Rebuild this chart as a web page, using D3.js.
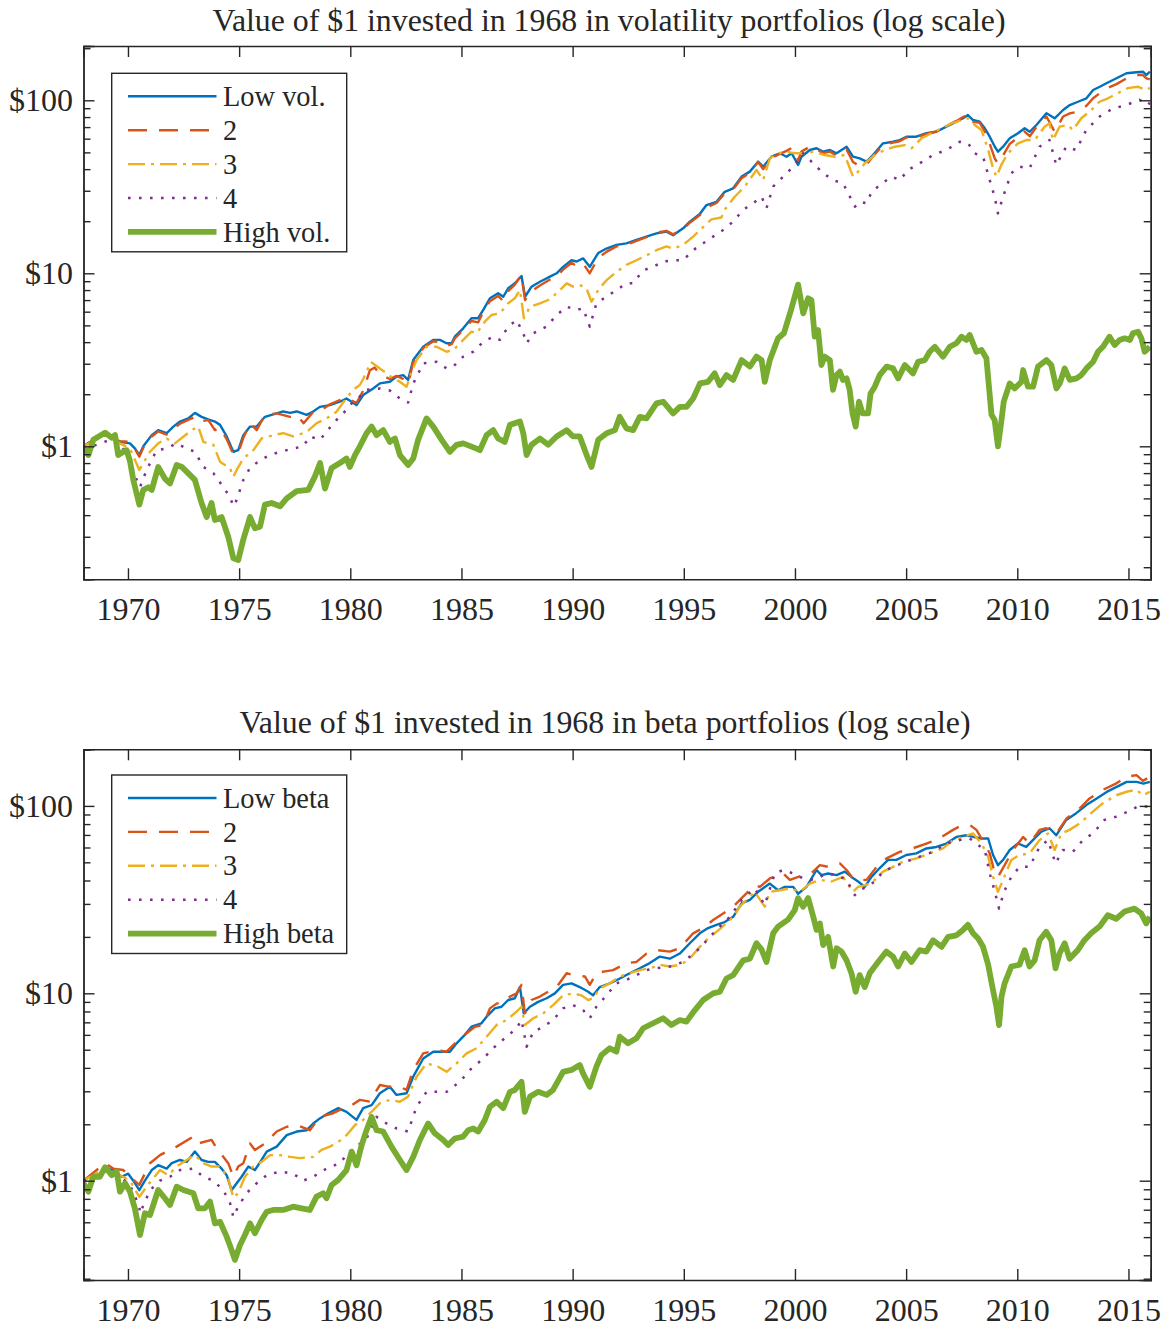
<!DOCTYPE html>
<html>
<head>
<meta charset="utf-8">
<script src="https://cdn.jsdelivr.net/npm/d3@7"></script>
<style>
  body { margin: 0; background: #fff; }
  svg { display: block; }
  text { font-family: "Liberation Serif", "Times New Roman", Times, serif; fill: #262626; }
</style>
</head>
<body>
<svg id="chart" width="1167" height="1329"></svg>
<script>
// ---- Axis ticks and labels ----
const xTickYears = [1970, 1975, 1980, 1985, 1990, 1995, 2000, 2005, 2010, 2015];
const yTickValues = [1, 10, 100];
const yTickLabels = ["$1", "$10", "$100"];

const volTitle = "Value of $1 invested in 1968 in volatility portfolios (log scale)";
const betaTitle = "Value of $1 invested in 1968 in beta portfolios (log scale)";
const volLabels = ["Low vol.", "2", "3", "4", "High vol."];
const betaLabels = ["Low beta", "2", "3", "4", "High beta"];

// ---- Volatility portfolios: [year, value of $1] ----
const volLow = [[1968.00,1.00],[1968.44,1.09],[1968.97,1.19],[1969.34,1.11],[1969.64,1.06],[1970.09,1.04],[1970.32,0.97],[1970.51,0.89],[1970.69,1.00],[1971.07,1.16],[1971.36,1.24],[1971.74,1.19],[1972.04,1.30],[1972.34,1.39],[1972.71,1.45],[1973.01,1.56],[1973.31,1.48],[1973.61,1.43],[1973.91,1.39],[1974.14,1.33],[1974.44,1.14],[1974.74,0.93],[1974.96,0.95],[1975.19,1.16],[1975.49,1.30],[1975.79,1.30],[1976.16,1.48],[1976.69,1.55],[1976.98,1.59],[1977.29,1.56],[1977.59,1.59],[1978.04,1.52],[1978.33,1.59],[1978.63,1.69],[1979.08,1.73],[1979.53,1.81],[1979.83,1.89],[1980.28,1.73],[1980.58,1.98],[1981.03,2.16],[1981.33,2.31],[1981.78,2.36],[1982.08,2.53],[1982.38,2.58],[1982.60,2.42],[1982.83,3.15],[1983.28,3.76],[1983.73,4.12],[1984.03,4.12],[1984.33,3.94],[1984.56,3.94],[1984.70,4.30],[1985.08,4.81],[1985.45,5.50],[1985.75,5.50],[1985.98,6.14],[1986.28,7.17],[1986.65,7.66],[1986.88,7.32],[1987.10,8.19],[1987.40,8.75],[1987.70,9.65],[1987.86,7.32],[1988.15,8.37],[1988.53,8.94],[1988.98,9.56],[1989.28,10.0],[1989.57,10.9],[1989.95,11.9],[1990.18,11.7],[1990.47,12.2],[1990.77,10.9],[1991.15,13.1],[1991.52,13.9],[1991.97,14.6],[1992.42,14.9],[1992.87,15.6],[1993.32,16.3],[1993.77,17.0],[1994.22,17.4],[1994.52,16.6],[1994.97,18.2],[1995.27,19.9],[1995.72,22.0],[1996.02,24.8],[1996.47,25.9],[1996.84,29.6],[1997.22,31.0],[1997.60,36.2],[1997.97,38.7],[1998.34,44.2],[1998.57,41.3],[1998.94,47.2],[1999.32,49.4],[1999.62,47.2],[1999.85,49.4],[2000.14,42.3],[2000.29,47.2],[2000.67,51.6],[2000.97,52.8],[2001.26,50.5],[2001.57,51.6],[2001.87,49.4],[2002.32,53.9],[2002.61,47.2],[2002.91,46.2],[2003.22,44.2],[2003.51,48.3],[2003.96,56.4],[2004.41,57.6],[2004.71,58.9],[2005.01,61.6],[2005.46,61.6],[2005.91,64.5],[2006.36,65.8],[2006.81,70.4],[2007.26,75.2],[2007.56,78.7],[2007.78,82.2],[2008.01,76.9],[2008.31,75.2],[2008.54,68.9],[2008.76,61.6],[2008.99,53.9],[2009.13,50.5],[2009.36,53.9],[2009.66,60.3],[2010.03,64.5],[2010.33,68.9],[2010.56,65.8],[2010.86,72.0],[2011.31,84.1],[2011.68,78.7],[2012.06,87.9],[2012.36,93.9],[2012.73,98.1],[2013.11,102.7],[2013.41,114.7],[2013.71,119.8],[2014.01,125.4],[2014.46,134.1],[2014.91,143.3],[2015.36,145.2],[2015.65,146.3],[2015.81,140.0],[2015.96,146.3]];

const volQ2 = [[1968.00,1.00],[1968.44,1.08],[1968.97,1.19],[1969.34,1.10],[1969.64,1.07],[1970.09,1.06],[1970.32,0.96],[1970.51,0.87],[1970.69,0.98],[1971.07,1.14],[1971.36,1.22],[1971.74,1.17],[1972.04,1.27],[1972.34,1.35],[1972.71,1.42],[1973.01,1.48],[1973.24,1.39],[1973.61,1.42],[1973.91,1.24],[1974.14,1.28],[1974.44,1.10],[1974.74,0.90],[1974.96,0.92],[1975.19,1.12],[1975.49,1.36],[1975.79,1.24],[1976.16,1.52],[1976.69,1.55],[1977.29,1.48],[1977.59,1.52],[1977.90,1.36],[1978.33,1.58],[1978.63,1.60],[1979.08,1.75],[1979.53,1.85],[1979.83,1.90],[1980.28,1.78],[1980.58,2.10],[1980.88,2.75],[1981.10,2.85],[1981.33,2.60],[1981.78,2.45],[1982.08,2.55],[1982.38,2.45],[1982.60,2.30],[1982.83,3.05],[1983.28,3.70],[1983.73,4.05],[1984.03,4.00],[1984.33,3.80],[1984.56,3.90],[1984.70,4.20],[1985.08,4.70],[1985.45,5.30],[1985.75,5.20],[1985.98,6.00],[1986.28,6.90],[1986.65,7.40],[1986.88,6.90],[1987.10,7.90],[1987.40,8.60],[1987.70,9.80],[1987.86,7.00],[1988.15,7.90],[1988.53,8.50],[1988.98,9.20],[1989.28,9.60],[1989.57,10.5],[1989.95,11.5],[1990.18,11.0],[1990.47,11.4],[1990.77,10.0],[1991.15,12.3],[1991.52,13.3],[1991.97,14.3],[1992.42,14.6],[1992.87,15.4],[1993.32,16.2],[1993.77,17.2],[1994.22,17.6],[1994.52,16.8],[1994.97,18.0],[1995.27,19.6],[1995.72,21.7],[1996.02,24.0],[1996.47,25.5],[1996.84,29.0],[1997.22,30.5],[1997.60,35.5],[1997.97,38.0],[1998.34,44.0],[1998.57,40.0],[1998.94,46.5],[1999.32,49.0],[1999.62,51.0],[1999.85,53.0],[2000.14,45.0],[2000.29,50.5],[2000.67,54.0],[2000.97,52.0],[2001.26,49.5],[2001.57,50.5],[2001.87,48.0],[2002.32,52.0],[2002.61,44.0],[2002.82,42.3],[2003.04,43.0],[2003.22,42.5],[2003.51,47.5],[2003.96,55.0],[2004.41,57.0],[2004.71,58.0],[2005.01,61.0],[2005.46,61.0],[2005.91,64.0],[2006.36,66.0],[2006.81,71.0],[2007.26,76.0],[2007.56,80.0],[2007.78,83.0],[2008.01,75.0],[2008.31,74.0],[2008.54,66.0],[2008.76,56.0],[2008.99,46.0],[2009.13,43.2],[2009.36,48.0],[2009.66,56.0],[2010.03,61.0],[2010.33,66.0],[2010.56,62.0],[2010.86,70.0],[2011.31,80.6],[2011.68,65.8],[2012.06,80.6],[2012.36,84.0],[2012.73,86.1],[2013.11,93.0],[2013.41,102.7],[2013.71,110.0],[2014.01,117.0],[2014.46,124.0],[2014.91,134.0],[2015.36,140.0],[2015.65,140.0],[2015.81,134.0],[2015.96,132.0]];

const volQ3 = [[1968.00,1.00],[1968.44,1.07],[1968.97,1.17],[1969.64,1.04],[1970.09,0.97],[1970.51,0.73],[1970.99,0.93],[1971.36,1.04],[1971.74,1.11],[1972.11,1.04],[1972.87,1.24],[1973.16,1.30],[1973.39,1.06],[1973.84,1.02],[1974.14,0.815],[1974.59,0.746],[1974.74,0.667],[1974.89,0.73],[1975.19,0.85],[1975.64,0.95],[1976.01,1.11],[1976.53,1.16],[1976.98,1.19],[1977.43,1.14],[1978.04,1.21],[1978.49,1.36],[1978.94,1.45],[1979.38,1.585],[1979.76,1.85],[1980.13,2.12],[1980.43,2.26],[1980.58,2.45],[1980.93,3.07],[1981.33,2.82],[1981.63,2.64],[1981.93,2.47],[1982.23,2.36],[1982.53,2.21],[1982.76,2.70],[1982.98,3.15],[1983.43,3.76],[1983.88,3.76],[1984.33,3.52],[1984.63,3.60],[1985.08,4.12],[1985.45,4.60],[1985.68,4.50],[1986.05,5.25],[1986.35,5.74],[1986.73,5.87],[1987.10,6.71],[1987.40,7.17],[1987.63,8.00],[1987.81,5.50],[1988.08,6.41],[1988.53,6.71],[1988.90,7.01],[1989.28,7.66],[1989.73,8.75],[1990.02,8.37],[1990.32,8.56],[1990.62,8.19],[1990.85,6.85],[1991.15,8.00],[1991.53,9.14],[1991.97,10.2],[1992.42,11.2],[1992.87,11.9],[1993.32,12.7],[1993.77,13.6],[1994.22,14.3],[1994.52,13.9],[1994.97,14.6],[1995.42,16.3],[1995.87,18.5],[1996.24,20.5],[1996.69,21.0],[1996.84,23.3],[1997.29,27.7],[1997.74,31.7],[1998.27,39.6],[1998.57,34.6],[1998.87,46.2],[1999.24,49.4],[1999.62,50.5],[1999.99,49.4],[2000.44,49.4],[2000.82,50.5],[2001.34,48.3],[2001.79,47.2],[2002.24,48.3],[2002.61,36.2],[2002.84,38.7],[2003.14,43.2],[2003.59,48.3],[2004.04,51.6],[2004.49,53.9],[2004.94,55.1],[2005.24,52.8],[2005.69,60.3],[2006.14,64.5],[2006.59,68.9],[2007.04,73.6],[2007.49,76.9],[2007.79,78.7],[2008.09,72.0],[2008.39,67.3],[2008.69,51.6],[2008.91,40.4],[2009.06,36.2],[2009.28,42.3],[2009.58,49.4],[2010.03,56.4],[2010.40,58.9],[2010.78,58.9],[2011.23,70.4],[2011.45,73.6],[2011.60,58.9],[2011.90,70.4],[2012.28,72.0],[2012.50,67.3],[2012.88,78.7],[2013.33,87.9],[2013.70,98.1],[2014.08,102.7],[2014.52,109.9],[2014.97,117.6],[2015.42,119.8],[2015.80,114.7],[2015.96,118.0]];

const volQ4 = [[1968.00,0.97],[1968.60,1.02],[1969.19,1.09],[1969.64,1.04],[1970.09,0.83],[1970.39,0.64],[1970.54,0.58],[1970.84,0.73],[1971.29,0.95],[1971.74,0.97],[1972.19,1.04],[1972.64,0.97],[1973.01,0.93],[1973.39,0.76],[1973.84,0.70],[1974.29,0.58],[1974.59,0.51],[1974.74,0.45],[1974.89,0.49],[1975.19,0.64],[1975.49,0.75],[1975.94,0.83],[1976.39,0.89],[1976.84,0.93],[1977.43,0.97],[1977.88,1.00],[1978.18,1.14],[1978.63,1.09],[1978.93,1.21],[1979.23,1.36],[1979.68,1.55],[1980.13,1.81],[1980.43,1.94],[1980.73,2.12],[1981.33,2.16],[1981.78,2.10],[1982.23,1.89],[1982.60,1.79],[1982.83,2.30],[1983.28,3.02],[1983.88,3.08],[1984.33,2.82],[1984.63,2.89],[1985.08,3.30],[1985.53,3.52],[1985.98,4.02],[1986.43,4.30],[1986.73,4.12],[1987.10,4.92],[1987.48,5.37],[1987.78,4.50],[1987.93,3.94],[1988.23,4.50],[1988.83,4.92],[1989.28,5.74],[1989.73,6.41],[1990.18,6.14],[1990.47,6.28],[1990.77,4.92],[1991.07,6.71],[1991.52,7.32],[1991.97,8.00],[1992.42,8.75],[1992.72,8.75],[1993.17,10.4],[1993.62,10.9],[1994.07,11.7],[1994.52,11.9],[1994.97,11.9],[1995.42,13.6],[1995.87,14.9],[1996.32,16.3],[1996.77,17.8],[1997.22,19.9],[1997.67,23.3],[1998.12,25.4],[1998.50,27.7],[1998.72,23.8],[1999.02,31.7],[1999.47,36.2],[1999.92,41.3],[2000.37,49.4],[2000.89,42.3],[2001.27,37.9],[2001.72,34.6],[2002.17,33.0],[2002.70,24.3],[2002.92,25.9],[2003.22,25.4],[2003.45,29.6],[2003.90,33.0],[2004.35,36.2],[2004.72,34.6],[2005.09,39.6],[2005.61,43.2],[2006.21,48.3],[2006.81,51.6],[2007.41,57.6],[2007.79,56.4],[2008.08,49.4],[2008.46,47.2],[2008.76,34.6],[2008.98,27.7],[2009.13,22.2],[2009.36,27.7],[2009.73,37.9],[2010.10,41.3],[2010.55,40.4],[2011.00,53.9],[2011.45,58.9],[2011.75,42.3],[2012.20,53.9],[2012.65,51.6],[2013.10,67.3],[2013.70,80.6],[2014.30,89.6],[2014.90,93.9],[2015.50,100.6],[2015.87,93.9],[2015.96,97.0]];

const volHigh = [[1968.00,1.00],[1968.22,0.89],[1968.44,1.09],[1968.97,1.20],[1969.27,1.12],[1969.42,1.16],[1969.56,0.89],[1969.79,0.93],[1969.94,0.95],[1970.09,0.82],[1970.24,0.64],[1970.51,0.46],[1970.69,0.56],[1970.92,0.58],[1971.07,0.56],[1971.36,0.76],[1971.66,0.65],[1971.89,0.61],[1972.19,0.78],[1972.42,0.76],[1973.01,0.64],[1973.31,0.47],[1973.54,0.39],[1973.76,0.47],[1973.91,0.375],[1974.21,0.39],[1974.51,0.30],[1974.74,0.225],[1974.96,0.22],[1975.19,0.29],[1975.49,0.39],[1975.71,0.336],[1975.94,0.343],[1976.16,0.46],[1976.46,0.47],[1976.84,0.45],[1977.14,0.50],[1977.59,0.55],[1978.11,0.56],[1978.41,0.67],[1978.64,0.80],[1978.86,0.57],[1979.16,0.75],[1979.53,0.80],[1979.83,0.85],[1979.98,0.76],[1980.21,0.89],[1980.43,1.00],[1980.73,1.19],[1980.96,1.30],[1981.18,1.16],[1981.48,1.24],[1981.78,1.06],[1982.01,1.11],[1982.23,0.89],[1982.60,0.78],[1982.83,0.85],[1983.05,1.09],[1983.43,1.45],[1983.73,1.30],[1984.11,1.09],[1984.48,0.93],[1984.78,1.02],[1985.08,1.04],[1985.68,0.97],[1985.83,0.95],[1986.13,1.16],[1986.43,1.24],[1986.65,1.11],[1986.95,1.06],[1987.18,1.33],[1987.63,1.39],[1987.78,1.19],[1987.93,0.89],[1988.15,1.02],[1988.53,1.11],[1988.90,1.02],[1989.28,1.14],[1989.73,1.24],[1990.02,1.14],[1990.32,1.14],[1990.63,0.89],[1990.85,0.76],[1991.15,1.09],[1991.53,1.19],[1991.90,1.24],[1992.12,1.48],[1992.42,1.27],[1992.72,1.24],[1993.02,1.48],[1993.32,1.45],[1993.77,1.77],[1994.07,1.81],[1994.52,1.55],[1994.82,1.69],[1995.12,1.69],[1995.42,1.89],[1995.73,2.31],[1996.09,2.36],[1996.39,2.64],[1996.62,2.26],[1996.92,2.58],[1997.22,2.42],[1997.60,3.15],[1997.97,2.89],[1998.27,3.30],[1998.50,3.15],[1998.64,2.36],[1998.87,3.15],[1999.24,4.21],[1999.50,4.50],[1999.80,6.00],[2000.14,8.60],[2000.37,5.87],[2000.59,7.17],[2000.74,7.01],[2000.89,4.30],[2001.04,4.70],[2001.19,2.95],[2001.34,3.30],[2001.57,3.15],[2001.71,2.12],[2001.87,2.58],[2002.02,2.70],[2002.16,2.42],[2002.32,2.47],[2002.46,2.12],[2002.59,1.55],[2002.73,1.30],[2002.88,1.81],[2003.04,1.55],[2003.29,1.55],[2003.40,2.02],[2003.59,2.21],[2003.81,2.58],[2004.12,2.89],[2004.41,2.82],[2004.64,2.47],[2004.94,2.95],[2005.31,2.64],[2005.54,3.08],[2005.84,3.15],[2006.06,3.52],[2006.29,3.76],[2006.66,3.30],[2006.96,3.76],[2007.26,3.94],[2007.49,4.30],[2007.71,4.12],[2007.86,4.40],[2008.16,3.52],[2008.39,3.60],[2008.61,3.23],[2008.84,1.52],[2008.98,1.42],[2009.13,1.00],[2009.29,1.42],[2009.39,1.81],[2009.66,2.31],[2009.88,2.16],[2010.19,2.36],[2010.26,2.76],[2010.48,2.21],[2010.71,2.21],[2010.93,2.89],[2011.31,3.15],[2011.53,2.95],[2011.76,2.16],[2011.91,2.31],[2012.13,2.82],[2012.36,2.42],[2012.66,2.47],[2012.88,2.58],[2013.11,2.82],[2013.41,3.08],[2013.63,3.52],[2013.85,3.76],[2014.15,4.30],[2014.38,3.85],[2014.60,4.12],[2014.83,4.21],[2015.06,4.12],[2015.20,4.50],[2015.43,4.60],[2015.58,4.21],[2015.73,3.52],[2015.96,3.76]];

// ---- Beta portfolios: [year, value of $1] ----
const betaLow = [[1968.00,1.00],[1968.29,1.05],[1968.74,1.07],[1969.04,1.16],[1969.34,1.14],[1969.72,1.05],[1970.01,1.09],[1970.24,1.00],[1970.51,0.89],[1970.76,1.00],[1971.07,1.14],[1971.36,1.21],[1971.74,1.16],[1971.97,1.24],[1972.34,1.29],[1972.64,1.26],[1973.01,1.43],[1973.31,1.29],[1973.61,1.26],[1973.91,1.26],[1974.21,1.16],[1974.44,1.07],[1974.66,0.89],[1974.89,0.97],[1975.11,1.05],[1975.41,1.19],[1975.71,1.14],[1976.01,1.29],[1976.24,1.43],[1976.69,1.52],[1977.14,1.75],[1977.59,1.83],[1978.04,1.86],[1978.33,2.02],[1978.63,2.15],[1979.01,2.29],[1979.46,2.44],[1979.83,2.33],[1980.28,2.11],[1980.58,2.44],[1980.96,2.53],[1981.33,2.93],[1981.78,3.17],[1982.08,2.87],[1982.53,2.93],[1982.83,3.59],[1983.28,4.49],[1983.73,4.88],[1984.18,4.88],[1984.48,4.88],[1984.78,5.41],[1985.15,6.00],[1985.45,6.63],[1985.90,6.92],[1986.13,7.50],[1986.50,8.31],[1986.80,8.48],[1987.10,9.21],[1987.40,9.41],[1987.63,10.8],[1987.80,7.82],[1988.08,8.48],[1988.45,9.00],[1988.83,9.41],[1989.20,9.99],[1989.57,11.1],[1989.95,11.3],[1990.32,10.8],[1990.70,10.2],[1990.92,9.75],[1991.22,10.8],[1991.67,11.3],[1992.12,12.0],[1992.57,12.8],[1993.02,13.6],[1993.47,14.5],[1993.92,15.7],[1994.37,15.3],[1994.82,16.3],[1995.27,18.5],[1995.72,20.9],[1996.09,22.3],[1996.47,23.2],[1996.84,24.0],[1997.22,25.6],[1997.60,30.2],[1997.97,31.5],[1998.34,34.8],[1998.87,38.5],[1999.24,35.5],[1999.54,37.0],[1999.92,37.0],[2000.14,34.0],[2000.52,37.0],[2000.97,45.5],[2001.19,42.7],[2001.49,43.6],[2001.87,42.7],[2002.24,44.6],[2002.54,41.8],[2002.84,39.5],[2003.14,37.0],[2003.44,41.8],[2003.81,46.6],[2004.19,51.5],[2004.56,51.5],[2005.01,54.7],[2005.46,55.8],[2005.91,59.3],[2006.36,60.4],[2006.81,63.0],[2007.26,68.3],[2007.71,69.7],[2008.01,68.3],[2008.39,67.0],[2008.69,67.0],[2008.91,54.7],[2009.13,48.3],[2009.36,51.5],[2009.66,58.2],[2010.03,63.0],[2010.40,60.4],[2010.70,65.7],[2011.08,72.8],[2011.45,76.0],[2011.75,69.7],[2012.20,84.2],[2012.65,91.5],[2013.12,101.3],[2013.57,109.6],[2014.02,118.8],[2014.47,126.3],[2014.92,134.4],[2015.37,134.4],[2015.67,131.6],[2015.96,134.4]];

const betaQ2 = [[1968.00,1.00],[1968.97,1.24],[1969.34,1.16],[1969.79,1.14],[1970.09,1.05],[1970.51,0.95],[1970.99,1.24],[1971.44,1.37],[1971.89,1.46],[1972.19,1.52],[1972.94,1.72],[1973.16,1.58],[1973.76,1.65],[1973.99,1.49],[1974.51,1.24],[1974.74,1.05],[1974.96,1.19],[1975.19,1.24],[1975.49,1.58],[1975.71,1.46],[1976.16,1.58],[1976.69,1.83],[1977.14,1.94],[1977.59,1.98],[1978.18,1.86],[1978.63,2.19],[1979.23,2.29],[1979.68,2.44],[1980.06,2.53],[1980.43,2.70],[1980.88,2.64],[1981.33,3.24],[1981.78,3.17],[1982.23,3.17],[1982.53,3.05],[1982.83,3.90],[1983.28,4.78],[1983.88,4.98],[1984.33,4.88],[1984.78,5.52],[1985.23,6.12],[1985.60,6.63],[1985.98,6.78],[1986.28,8.31],[1986.58,8.81],[1986.95,9.00],[1987.18,9.61],[1987.48,9.99],[1987.70,11.1],[1987.85,7.82],[1988.15,9.21],[1988.53,9.61],[1988.90,10.2],[1989.28,10.8],[1989.73,12.8],[1990.02,12.5],[1990.55,12.3],[1990.77,11.1],[1991.07,12.8],[1991.45,13.1],[1991.82,13.3],[1992.42,14.5],[1992.87,14.7],[1993.32,16.3],[1993.77,17.0],[1994.37,16.7],[1994.82,17.4],[1995.42,20.9],[1995.87,22.3],[1996.32,24.6],[1996.77,26.7],[1997.22,29.0],[1997.60,32.2],[1998.19,37.8],[1998.42,37.0],[1998.87,41.0],[1999.47,43.6],[1999.77,40.3],[2000.37,42.7],[2000.82,44.6],[2001.12,48.3],[2001.49,47.3],[2002.02,49.3],[2002.32,45.5],[2002.61,41.0],[2002.91,40.3],[2003.22,40.3],[2003.67,47.3],[2004.12,52.5],[2004.71,56.9],[2005.09,58.2],[2005.91,63.0],[2006.36,65.7],[2007.11,74.5],[2007.41,77.7],[2007.86,79.2],[2008.16,74.5],[2008.39,67.0],[2008.76,55.8],[2008.99,43.6],[2009.13,41.8],[2009.43,48.3],[2009.81,58.2],[2010.26,68.3],[2010.55,63.0],[2011.00,74.5],[2011.31,76.0],[2011.76,71.3],[2012.21,85.6],[2012.80,96.9],[2013.25,109.6],[2013.85,121.9],[2014.46,132.0],[2014.91,143.0],[2015.36,146.0],[2015.65,136.0],[2015.96,143.0]];

const betaQ3 = [[1968.00,1.00],[1968.97,1.16],[1969.64,1.07],[1970.09,1.00],[1970.51,0.82],[1970.84,0.93],[1971.44,1.14],[1971.81,1.07],[1972.19,1.19],[1972.64,1.29],[1973.01,1.37],[1973.39,1.24],[1973.76,1.19],[1974.14,1.19],[1974.51,1.03],[1974.74,0.81],[1974.96,0.86],[1975.26,1.05],[1975.64,1.19],[1976.01,1.26],[1976.39,1.37],[1976.84,1.37],[1977.29,1.34],[1977.73,1.32],[1978.33,1.34],[1978.71,1.46],[1979.08,1.52],[1979.46,1.61],[1979.83,1.75],[1980.21,1.98],[1980.58,2.11],[1981.03,2.38],[1981.33,2.59],[1981.78,2.70],[1982.23,2.64],[1982.60,2.81],[1982.98,3.59],[1983.43,4.23],[1983.95,4.06],[1984.33,3.81],[1984.78,4.23],[1985.23,4.78],[1985.68,5.09],[1986.13,5.87],[1986.58,6.78],[1987.03,7.20],[1987.48,7.98],[1987.70,8.48],[1987.85,6.78],[1988.23,7.36],[1988.68,7.82],[1989.12,8.65],[1989.57,9.75],[1990.02,9.99],[1990.40,9.75],[1990.70,9.21],[1990.92,9.41],[1991.22,10.6],[1991.67,11.3],[1992.12,12.3],[1992.57,12.8],[1993.02,13.3],[1993.47,13.6],[1993.92,14.2],[1994.37,13.9],[1994.82,14.2],[1995.19,15.0],[1995.72,17.7],[1996.17,20.0],[1996.62,22.0],[1997.22,25.6],[1997.52,29.0],[1998.19,34.8],[1998.64,29.0],[1998.87,34.8],[1999.32,35.5],[1999.77,36.3],[2000.22,34.8],[2000.67,38.5],[2001.12,40.3],[2001.64,39.5],[2002.16,41.8],[2002.61,34.8],[2002.84,37.0],[2003.22,37.9],[2003.59,40.3],[2003.96,44.6],[2004.41,47.3],[2004.86,50.4],[2005.46,52.5],[2006.06,55.8],[2006.66,59.3],[2007.11,65.7],[2007.56,68.3],[2008.01,71.3],[2008.39,63.0],[2008.69,53.6],[2008.91,41.8],[2009.13,34.8],[2009.36,40.3],[2009.73,51.5],[2010.10,54.7],[2010.55,55.8],[2011.00,65.7],[2011.38,71.3],[2011.68,58.2],[2011.98,71.3],[2012.35,74.5],[2012.80,80.6],[2013.32,91.5],[2013.85,103.4],[2014.46,114.0],[2014.91,119.0],[2015.36,122.0],[2015.65,114.0],[2015.96,119.0]];

const betaQ4 = [[1968.00,1.00],[1968.97,1.12],[1969.64,1.05],[1970.09,0.95],[1970.51,0.73],[1970.54,0.67],[1970.99,0.89],[1971.44,1.00],[1971.89,1.05],[1972.34,1.14],[1972.94,1.16],[1973.39,1.05],[1973.84,1.00],[1974.29,0.89],[1974.59,0.76],[1974.74,0.64],[1974.96,0.73],[1975.34,0.86],[1975.79,0.97],[1976.24,1.07],[1976.84,1.12],[1977.43,1.09],[1977.88,1.00],[1978.33,1.05],[1978.93,1.16],[1979.53,1.24],[1979.83,1.37],[1980.28,1.52],[1980.73,1.68],[1981.18,2.19],[1981.63,2.02],[1982.08,1.90],[1982.60,1.83],[1982.98,2.48],[1983.43,2.98],[1984.33,2.98],[1984.93,3.37],[1985.38,3.90],[1985.98,4.49],[1986.50,5.19],[1987.03,5.87],[1987.48,6.51],[1987.70,7.20],[1987.93,5.19],[1988.23,6.23],[1988.68,6.63],[1989.12,7.20],[1989.57,8.31],[1990.02,8.65],[1990.47,8.14],[1990.77,7.36],[1991.07,8.48],[1991.52,9.75],[1991.97,11.3],[1992.42,11.8],[1992.87,12.5],[1993.32,13.3],[1993.77,13.6],[1994.37,13.9],[1994.97,14.7],[1995.27,15.7],[1995.72,17.4],[1996.17,20.0],[1996.62,22.7],[1997.07,25.6],[1997.60,31.5],[1998.19,36.3],[1998.64,29.6],[1999.09,43.6],[1999.47,45.5],[1999.92,43.6],[2000.37,41.0],[2000.82,40.3],[2001.12,41.8],[2001.42,43.6],[2001.87,42.7],[2002.32,40.3],[2002.69,33.4],[2002.91,35.5],[2003.22,37.0],[2003.59,39.5],[2003.96,44.6],[2004.41,47.3],[2005.01,50.4],[2005.61,53.6],[2006.21,56.9],[2006.81,63.0],[2007.41,65.7],[2007.86,67.0],[2008.16,63.0],[2008.54,58.2],[2008.76,43.6],[2008.99,34.8],[2009.18,28.3],[2009.40,34.8],[2009.73,41.8],[2010.10,47.3],[2010.55,47.3],[2011.00,60.4],[2011.38,65.7],[2011.72,49.3],[2012.05,58.2],[2012.50,56.9],[2012.95,65.7],[2013.40,71.3],[2013.92,84.2],[2014.46,87.7],[2014.98,93.4],[2015.43,99.4],[2015.96,99.4]];

const betaHigh = [[1968.00,0.97],[1968.22,0.874],[1968.44,1.05],[1968.74,1.05],[1968.97,1.18],[1969.27,1.07],[1969.49,1.12],[1969.64,0.874],[1969.87,0.97],[1970.09,0.874],[1970.31,0.712],[1970.54,0.513],[1970.76,0.670],[1970.99,0.656],[1971.36,0.892],[1971.66,0.806],[1971.89,0.742],[1972.19,0.929],[1972.49,0.892],[1972.94,0.857],[1973.16,0.712],[1973.46,0.712],[1973.69,0.773],[1973.91,0.592],[1974.14,0.604],[1974.44,0.503],[1974.66,0.427],[1974.81,0.378],[1975.04,0.454],[1975.26,0.513],[1975.49,0.592],[1975.71,0.524],[1976.01,0.617],[1976.24,0.683],[1976.53,0.698],[1976.98,0.698],[1977.43,0.727],[1977.81,0.712],[1978.18,0.698],[1978.48,0.822],[1978.78,0.857],[1978.93,0.806],[1979.16,0.949],[1979.46,1.01],[1979.83,1.14],[1980.06,1.43],[1980.28,1.21],[1980.51,1.55],[1980.73,1.86],[1980.96,2.19],[1981.18,1.86],[1981.48,1.83],[1981.85,1.52],[1982.23,1.29],[1982.53,1.14],[1982.83,1.34],[1983.13,1.65],[1983.50,2.02],[1983.80,1.79],[1984.18,1.65],[1984.40,1.55],[1984.70,1.68],[1985.08,1.72],[1985.30,1.86],[1985.53,1.90],[1985.75,1.83],[1986.05,2.11],[1986.28,2.48],[1986.58,2.64],[1986.88,2.44],[1987.18,2.98],[1987.40,3.05],[1987.70,3.37],[1987.85,2.33],[1988.08,2.81],[1988.45,2.98],[1988.83,2.87],[1989.12,3.05],[1989.57,3.81],[1989.95,3.90],[1990.32,4.14],[1990.47,3.74],[1990.77,3.17],[1991.07,4.06],[1991.30,4.69],[1991.67,5.09],[1991.97,4.88],[1992.12,5.87],[1992.49,5.41],[1992.87,5.75],[1993.17,6.51],[1993.62,6.92],[1994.07,7.36],[1994.44,6.78],[1994.82,7.20],[1995.12,7.06],[1995.50,8.14],[1995.87,9.21],[1996.32,9.99],[1996.62,10.2],[1996.92,12.0],[1997.22,12.5],[1997.67,15.0],[1997.97,15.3],[1998.27,18.5],[1998.50,17.1],[1998.72,14.7],[1999.02,20.9],[1999.24,22.7],[1999.69,24.7],[1999.99,27.8],[2000.14,32.2],[2000.37,29.0],[2000.59,32.2],[2000.82,25.7],[2000.97,21.8],[2001.12,23.6],[2001.27,18.1],[2001.49,20.0],[2001.72,13.9],[2001.87,17.4],[2002.09,16.7],[2002.32,15.0],[2002.54,12.8],[2002.73,10.2],[2002.91,12.5],[2003.14,10.8],[2003.36,12.8],[2003.74,14.7],[2004.11,16.7],[2004.41,15.7],[2004.64,13.9],[2004.94,16.3],[2005.24,14.7],[2005.61,17.0],[2005.91,16.7],[2006.21,19.2],[2006.59,17.7],[2006.89,20.0],[2007.26,20.4],[2007.56,21.8],[2007.78,23.2],[2008.01,20.9],[2008.24,19.6],[2008.46,17.7],[2008.69,14.2],[2008.88,10.8],[2009.06,8.48],[2009.18,6.77],[2009.29,9.60],[2009.43,11.3],[2009.73,13.9],[2010.10,14.2],[2010.33,17.0],[2010.55,13.9],[2010.78,15.0],[2011.00,19.2],[2011.30,21.3],[2011.53,19.2],[2011.72,13.6],[2011.90,16.3],[2012.13,18.5],[2012.35,15.3],[2012.72,17.0],[2013.02,19.2],[2013.32,20.9],[2013.70,22.7],[2014.07,26.1],[2014.45,25.0],[2014.82,27.3],[2015.27,28.3],[2015.57,26.7],[2015.80,23.6],[2015.96,25.6]];

// ---- Line styles (MATLAB default colour order) ----
const seriesStyles = [
  { color: "#0072BD", width: 2.4, dash: null },
  { color: "#D95319", width: 2.4, dash: "19,12" },
  { color: "#EDB120", width: 2.4, dash: "17,6,3,6" },
  { color: "#7E2F8E", width: 2.5, dash: "2.6,8.4" },
  { color: "#77AC30", width: 5.8, dash: null }
];

const svg = d3.select("#chart");
const axisColor = "#262626";

function drawPanel(cfg) {
  const x = d3.scaleLinear().domain([1968, 2016]).range([83.5, 1150.7]);
  const y = d3.scaleLog().domain(cfg.yDomain).range([cfg.bottom, cfg.top]);
  const g = svg.append("g");
  const clipId = "clip" + cfg.id;

  g.append("clipPath").attr("id", clipId)
    .append("rect").attr("x", 83.5).attr("y", cfg.top)
    .attr("width", 1150.7 - 83.5).attr("height", cfg.bottom - cfg.top);

  // title
  g.append("text").attr("x", cfg.titleX).attr("y", cfg.titleY)
    .attr("text-anchor", "middle").attr("font-size", 31.8).text(cfg.title);

  // series
  const line = d3.line().x(d => x(d[0])).y(d => y(d[1]));
  const lines = g.append("g").attr("clip-path", `url(#${clipId})`);
  cfg.series.forEach((s, i) => {
    const st = seriesStyles[i];
    lines.append("path").datum(s)
      .attr("d", line)
      .attr("fill", "none")
      .attr("stroke", st.color)
      .attr("stroke-width", st.width)
      .attr("stroke-linejoin", "round")
      .attr("stroke-dasharray", st.dash);
  });

  // axes: bottom/top with inward ticks, left/right log axes with minor ticks
  const major = 11, minor = 7;
  const xAxisB = d3.axisBottom(x).tickValues(xTickYears).tickSize(-major).tickFormat(d3.format("d"));
  const xAxisT = d3.axisTop(x).tickValues(xTickYears).tickSize(-major).tickFormat("");
  const minorVals = [];
  [0.1, 1, 10, 100].forEach(d => { for (let k = 2; k <= 9; k++) { const v = k * d; if (v > cfg.yDomain[0] && v < cfg.yDomain[1]) minorVals.push(v); } });

  const gb = g.append("g").attr("transform", `translate(0,${cfg.bottom})`).call(xAxisB);
  g.append("g").attr("transform", `translate(0,${cfg.top})`).call(xAxisT);
  const yAxisL = d3.axisLeft(y).tickValues(yTickValues).tickSize(-major).tickPadding(10.5)
    .tickFormat((d, i) => yTickLabels[i]);
  const yAxisR = d3.axisRight(y).tickValues(yTickValues).tickSize(-major).tickFormat("");
  const yMinorL = d3.axisLeft(y).tickValues(minorVals).tickSize(-minor).tickFormat("");
  const yMinorR = d3.axisRight(y).tickValues(minorVals).tickSize(-minor).tickFormat("");
  const gl = g.append("g").attr("transform", "translate(83.5,0)").call(yAxisL);
  g.append("g").attr("transform", "translate(83.5,0)").call(yMinorL);
  g.append("g").attr("transform", "translate(1150.7,0)").call(yAxisR);
  g.append("g").attr("transform", "translate(1150.7,0)").call(yMinorR);

  g.selectAll(".domain").attr("stroke", axisColor).attr("stroke-width", 1.4);
  g.selectAll(".tick line").attr("stroke", axisColor).attr("stroke-width", 1.4);
  g.selectAll(".tick text").attr("font-family", '"Liberation Serif", "Times New Roman", serif')
    .attr("font-size", 32).attr("fill", axisColor);
  gb.selectAll(".tick text").attr("dy", null).attr("y", 41);
  gl.selectAll(".tick text").attr("dy", "0.33em");

  // legend
  const lg = g.append("g");
  lg.append("rect").attr("x", 111.7).attr("y", cfg.legendTop)
    .attr("width", 235).attr("height", 178.5)
    .attr("fill", "#fff").attr("stroke", axisColor).attr("stroke-width", 1.4);
  cfg.labels.forEach((lab, i) => {
    const cy = cfg.legendTop + 23 + i * 33.9;
    const st = seriesStyles[i];
    lg.append("line").attr("x1", 128).attr("x2", 216.5).attr("y1", cy).attr("y2", cy)
      .attr("stroke", st.color).attr("stroke-width", st.width).attr("stroke-dasharray", st.dash);
    lg.append("text").attr("x", 223).attr("y", cy).attr("dy", "0.34em")
      .attr("font-size", 28.4).text(lab);
  });
}

drawPanel({
  id: "vol", top: 46, bottom: 579.3, yDomain: [0.1703, 206], titleX: 609, titleY: 31,
  title: volTitle, labels: volLabels, legendTop: 73.3,
  series: [volLow, volQ2, volQ3, volQ4, volHigh]
});
drawPanel({
  id: "beta", top: 749.3, bottom: 1280, yDomain: [0.2952, 200.5], titleX: 605, titleY: 733,
  title: betaTitle, labels: betaLabels, legendTop: 775,
  series: [betaLow, betaQ2, betaQ3, betaQ4, betaHigh]
});
</script>
</body>
</html>
